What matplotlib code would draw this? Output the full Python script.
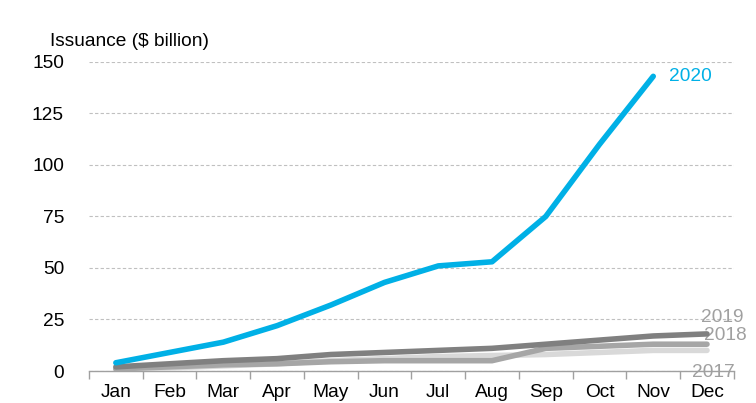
import numpy as np
import matplotlib.pyplot as plt

plt.rcParams['font.family'] = ['Liberation Sans', 'DejaVu Sans']

months = ['Jan', 'Feb', 'Mar', 'Apr', 'May', 'Jun', 'Jul', 'Aug', 'Sep', 'Oct', 'Nov', 'Dec']

# cumulative issuance, $ billion
iss_2017 = [0.5, 1.5, 2.5, 3.5, 5, 6, 7, 7.5, 8, 9, 10, 10]
iss_2018 = [1, 2, 3, 3.5, 4.5, 5, 5, 5, 11, 12, 13, 13]
iss_2019 = [2, 3.5, 5, 6, 8, 9, 10, 11, 13, 15, 17, 18]
iss_2020 = [4, 9, 14, 22, 32, 43, 51, 53, 75, 110, 143]

x = np.arange(len(months))
fs = 13.8

fig = plt.figure(figsize=(7.56, 4.03), dpi=100)
ax = fig.add_axes([0.1177, 0.0794, 0.853, 0.767])

lw = 4
ax.plot(x, iss_2017, color='#d9d9d9', lw=lw, solid_capstyle='round', zorder=3)
ax.plot(x, iss_2018, color='#a6a6a6', lw=lw, solid_capstyle='round', zorder=4)
ax.plot(x, iss_2019, color='#808080', lw=lw, solid_capstyle='round', zorder=5)
ax.plot(x[:len(iss_2020)], iss_2020, color='#00b0e6', lw=lw, solid_capstyle='round', zorder=6)

# end labels
ax.text(10.3, 143, '2020', color='#00b0e6', fontsize=fs, va='center', ha='left')
lab_col = '#a0a0a0'
ax.text(10.88, 26, '2019', color=lab_col, fontsize=fs, va='center', ha='left')
ax.text(10.94, 17.3, '2018', color=lab_col, fontsize=fs, va='center', ha='left')
ax.text(10.72, -0.8, '2017', color=lab_col, fontsize=fs, va='center', ha='left')

ax.set_xlim(-0.5, 11.5)
ax.set_ylim(0, 150)
ax.set_yticks(np.arange(0, 151, 25))
ax.yaxis.grid(True, color='#c0c0c0', ls=(0, (3, 2)), lw=0.8)
ax.set_axisbelow(True)

ax.set_xticks(x)
ax.set_xticklabels(months)
ax.set_xticks(np.arange(-0.5, 12, 1), minor=True)
ax.tick_params(axis='x', which='major', length=0, pad=9, labelsize=fs)
ax.tick_params(axis='x', which='minor', length=6, color='#a0a0a0', width=1)
ax.tick_params(axis='y', length=0, pad=18, labelsize=fs)

for s in ['top', 'right', 'left']:
    ax.spines[s].set_visible(False)
ax.spines['bottom'].set_color('#a0a0a0')
ax.spines['bottom'].set_linewidth(1)

fig.text(50 / 756, 1 - 42 / 403, 'Issuance ($ billion)', fontsize=fs, va='center', ha='left')

fig.savefig('out.png', dpi=100)
